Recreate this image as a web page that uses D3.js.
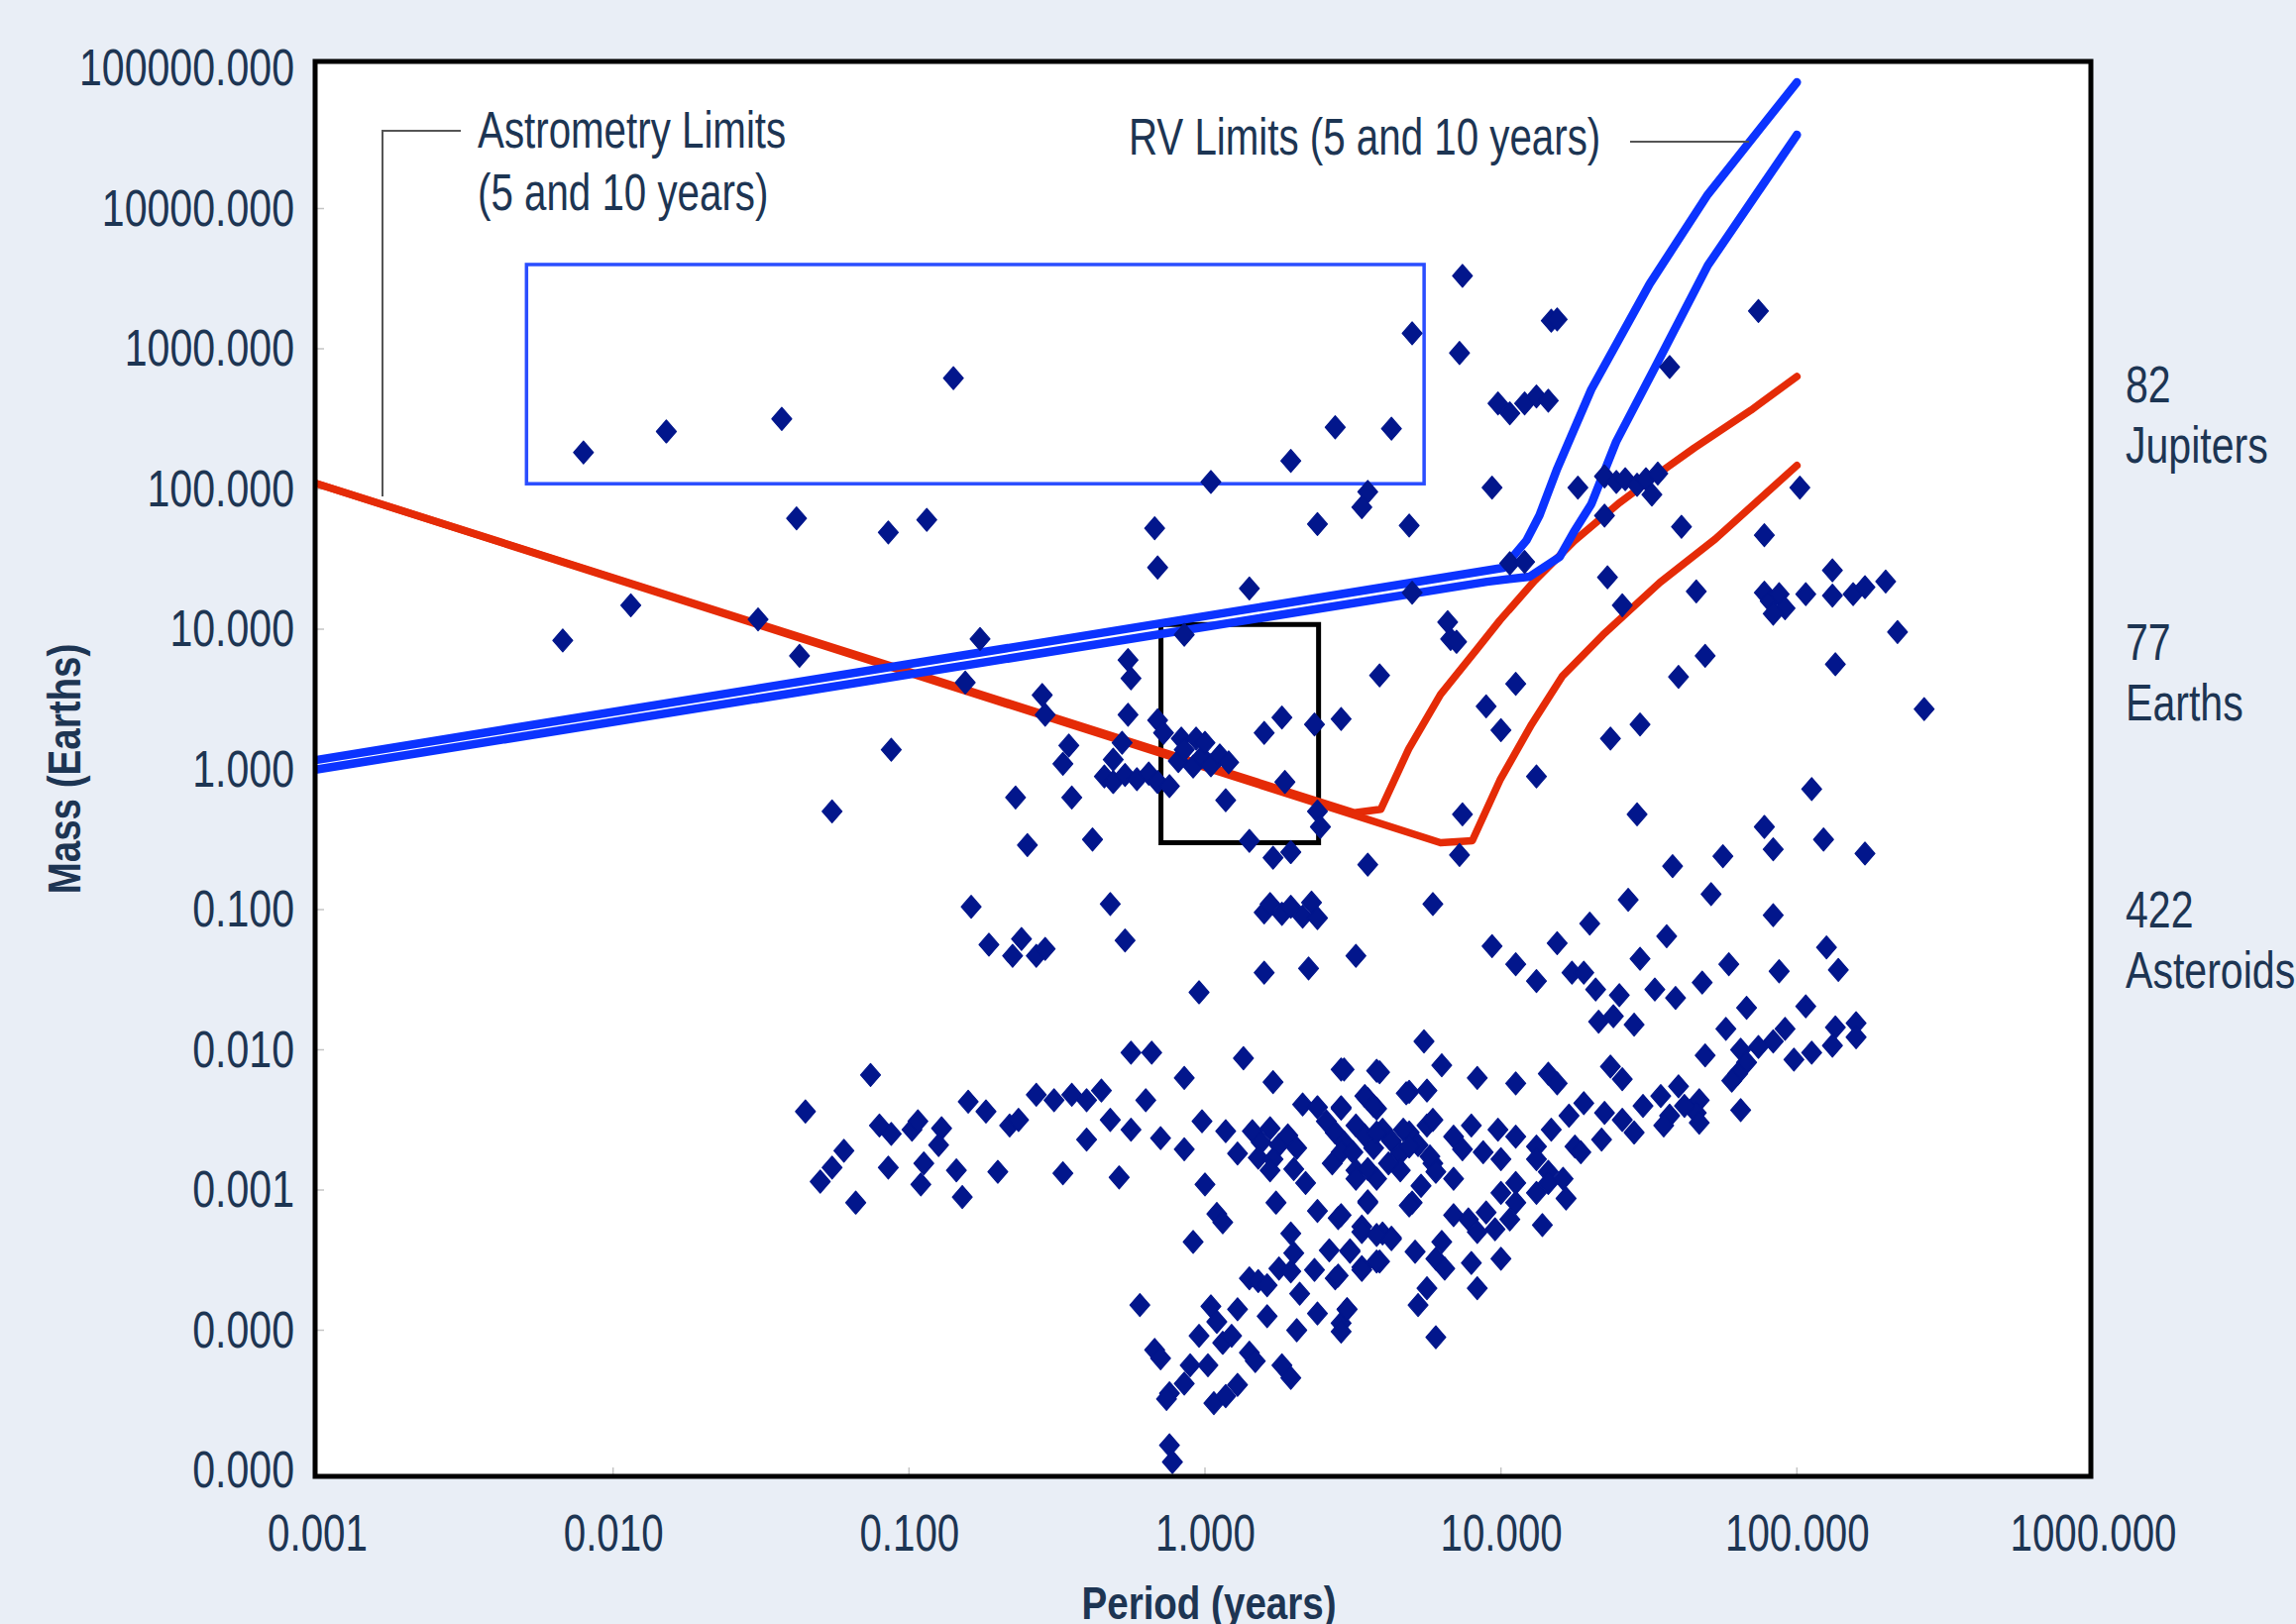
<!DOCTYPE html>
<html>
<head>
<meta charset="utf-8">
<script src="https://cdn.jsdelivr.net/npm/d3@7"></script>
<style>
  html, body { margin: 0; padding: 0; background: #e9eef6; overflow: hidden; }
  svg { display: block; }
  text { font-family: "Liberation Sans", Arial, sans-serif; fill: #1d3553; }
</style>
</head>
<body>
<div id="chart"></div>
<script>
// Candidates as [log10 period (years), log10 mass (Earths)]
const jupiters = [
  [-2.10,2.26],[-1.82,2.41],[-1.43,2.50],[-0.85,2.79],[0.70,3.11],[0.87,3.52],[0.86,2.97],[1.17,3.20],
  [1.19,3.21],[0.44,2.44],[0.63,2.43],[0.29,2.20],[0.02,2.05],[0.55,1.98],[0.53,1.87],[0.97,2.01],
  [0.99,2.61],[1.03,2.54],[1.08,2.61],[1.12,2.66],[1.16,2.63],[1.87,3.27],[1.57,2.87],[1.26,2.01],
  [1.35,2.09],[1.39,2.05],[1.42,2.07],[1.46,2.03],[1.49,2.07],[1.53,2.11],[1.51,1.96],[1.35,1.81],
  [1.61,1.73],[1.89,1.67],[2.01,2.01],[-1.38,1.79],[-1.07,1.69],[-0.94,1.78],[-0.17,1.72],[-0.16,1.44],
  [0.38,1.75],[0.69,1.74],[0.15,1.29],[0.70,1.26],[1.03,1.47],[1.08,1.48],[1.36,1.37],[1.41,1.17],
  [1.66,1.27],[1.89,1.26],[1.91,1.20],[1.94,1.25],[1.96,1.15],[1.92,1.11],[2.03,1.25],[2.12,1.42],
  [2.12,1.24],[2.19,1.25],[2.23,1.30],[2.30,1.34],[2.34,0.98],[-1.94,1.17],[-2.17,0.92],[-1.51,1.07],
  [-0.76,0.93],[-0.07,0.96],[-0.26,0.78],[0.82,1.05],[0.83,0.93],[0.85,0.91],[1.69,0.81],[1.60,0.66],
  [2.13,0.75],[-1.37,0.81],[-0.81,0.62],[0.59,0.67],[1.05,0.61],[-0.25,0.65],[2.43,0.43]
];

const earths = [
  [-0.55,0.53],[-0.54,0.39],[-0.26,0.39],[-0.16,0.35],[-0.14,0.26],[-0.08,0.22],[-0.03,0.22],[-0.28,0.19],
  [-0.31,0.07],[-0.46,0.17],[-0.48,0.04],[-0.64,-0.20],[-0.45,-0.20],[-1.06,0.14],[-1.26,-0.30],[-0.60,-0.54],
  [-0.38,-0.50],[-0.34,-0.05],[-0.31,-0.09],[-0.27,-0.04],[-0.23,-0.07],[-0.19,-0.03],[-0.16,-0.09],[-0.12,-0.12],
  [-0.09,0.06],[-0.07,0.14],[-0.04,0.02],[-0.01,0.09],[0.02,0.03],[0.05,0.10],[0.08,0.05],[0.00,0.19],
  [0.07,-0.22],[0.20,0.26],[0.26,0.37],[0.27,-0.09],[0.37,0.32],[0.46,0.36],[0.38,-0.30],[0.39,-0.41],
  [0.15,-0.51],[0.23,-0.63],[0.29,-0.59],[0.55,-0.68],[0.77,-0.96],[0.87,-0.32],[0.86,-0.61],[0.95,0.45],
  [1.00,0.28],[1.12,-0.05],[1.37,0.22],[1.47,0.32],[1.46,-0.32],[2.05,-0.14],[1.89,-0.41],[1.92,-0.57],
  [2.09,-0.50],[2.23,-0.60],[1.58,-0.69],[1.75,-0.62],[1.43,-0.93],[1.71,-0.89],[1.92,-1.04],[1.30,-1.10],
  [1.56,-1.19],[2.10,-1.27],[2.14,-1.43],[1.94,-1.44],[1.47,-1.35],[1.77,-1.39],[0.97,-1.26],[1.19,-1.24],
  [1.05,-1.39],[1.12,-1.51],[-0.79,-0.98],[-0.32,-0.96],[-0.27,-1.22],[-0.73,-1.25],[-0.62,-1.21],[-0.65,-1.33],
  [-0.57,-1.33],[-0.54,-1.28],[0.20,-1.02],[0.22,-0.96],[0.26,-1.03],[0.29,-0.98],[0.33,-1.05],[0.36,-0.95],
  [0.38,-1.06],[0.20,-1.45],[0.35,-1.42],[0.51,-1.33]
];

const asteroids = [
  [-0.02,-1.59],[1.24,-1.45],[1.28,-1.45],[1.32,-1.57],[1.40,-1.61],[1.52,-1.57],[1.59,-1.63],[1.68,-1.52],
  [1.83,-1.70],[2.03,-1.69],[1.33,-1.80],[1.38,-1.76],[1.45,-1.82],[1.76,-1.85],[1.96,-1.85],[2.13,-1.84],
  [2.20,-1.81],[2.20,-1.91],[2.12,-1.97],[2.05,-2.02],[1.99,-2.07],[1.92,-1.94],[1.87,-1.98],[1.81,-2.00],
  [1.83,-2.09],[1.80,-2.17],[1.78,-2.22],[1.69,-2.04],[1.81,-2.43],[0.74,-1.94],
  [-1.13,-2.18],[-1.35,-2.44],[-1.22,-2.72],[-1.26,-2.84],[-1.30,-2.94],[-1.18,-3.09],[-1.10,-2.54],[-1.06,-2.60],
  [-0.99,-2.57],[-0.97,-2.51],[-0.89,-2.56],[-0.90,-2.68],[-1.07,-2.84],[-0.95,-2.81],[-0.96,-2.96],[-0.84,-2.86],
  [-0.82,-3.05],[-0.80,-2.37],[-0.74,-2.44],[-0.66,-2.54],[-0.63,-2.50],[-0.70,-2.87],[-0.57,-2.32],[-0.51,-2.36],
  [-0.45,-2.32],[-0.40,-2.36],[-0.35,-2.29],[-0.40,-2.64],[-0.48,-2.88],[-0.32,-2.50],[-0.25,-2.57],[-0.29,-2.91],
  [-0.25,-2.02],[-0.18,-2.02],[-0.20,-2.36],[-0.07,-2.20],[-0.15,-2.63],[-0.07,-2.71],[-0.01,-2.51],[0.07,-2.58],
  [0.13,-2.06],[0.00,-2.96],[0.04,-3.17],[0.06,-3.23],[-0.04,-3.37],[0.11,-2.74],[0.23,-2.23],[0.33,-2.39],
  [0.38,-2.41],[0.46,-2.41],[0.46,-2.14],[0.55,-2.35],[0.58,-2.42],[0.58,-2.15],[0.69,-2.30],
  [0.16,-2.58],[0.19,-2.66],[0.22,-2.56],[0.25,-2.68],[0.28,-2.61],[0.31,-2.70],[0.18,-2.77],[0.23,-2.78],
  [0.30,-2.85],[0.22,-2.86],[0.34,-2.95],[0.24,-3.09],
  [0.41,-2.51],[0.44,-2.59],[0.47,-2.66],[0.51,-2.54],[0.54,-2.61],[0.57,-2.70],[0.60,-2.57],[0.63,-2.65],
  [0.66,-2.74],[0.69,-2.59],[0.72,-2.68],[0.75,-2.54],[0.77,-2.81],[0.43,-2.81],[0.51,-2.86],[0.58,-2.92],
  [0.66,-2.86],[0.73,-2.97],[0.46,-2.73],[0.62,-2.81],
  [0.38,-3.15],[0.45,-3.20],[0.53,-3.26],[0.60,-3.31],[0.63,-3.34],[0.55,-3.08],[0.70,-3.09],[0.29,-3.31],
  [0.30,-3.45],[0.42,-3.43],[0.49,-3.43],[0.25,-3.56],[0.29,-3.58],[0.15,-3.63],[0.18,-3.65],[0.21,-3.68],
  [0.37,-3.57],[0.44,-3.63],[0.53,-3.55],[0.59,-3.51],
  [-0.22,-3.82],[0.02,-3.83],[0.04,-3.94],[0.11,-3.85],[0.21,-3.90],[0.32,-3.74],[0.38,-3.88],[0.46,-3.95],
  [0.48,-3.85],[0.31,-4.00],[-0.02,-4.04],[0.06,-4.09],[0.09,-4.04],[-0.17,-4.14],[-0.15,-4.20],[0.15,-4.16],
  [0.17,-4.22],[-0.05,-4.25],[0.01,-4.25],[0.26,-4.25],[0.29,-4.34],[-0.07,-4.38],[-0.12,-4.45],[-0.13,-4.49],
  [0.03,-4.52],[0.07,-4.47],[0.11,-4.39],[-0.12,-4.82],[-0.11,-4.94],
  [0.47,-2.14],[0.59,-2.16],[0.80,-2.11],[0.92,-2.20],[1.05,-2.24],[1.16,-2.17],[1.19,-2.24],[1.37,-2.12],
  [1.41,-2.21],[0.75,-2.29],[0.68,-2.31],[0.54,-2.33],[0.57,-2.40],[0.46,-2.42],
  [0.58,-2.59],[0.67,-2.57],[0.77,-2.50],[0.84,-2.62],[0.90,-2.54],[0.99,-2.57],[1.05,-2.62],[1.12,-2.69],
  [1.17,-2.57],[1.23,-2.47],[1.28,-2.38],[1.35,-2.45],[1.41,-2.50],[1.48,-2.40],[1.54,-2.33],[1.60,-2.26],
  [1.67,-2.36],[1.57,-2.47],[1.66,-2.45],[1.45,-2.59],[1.34,-2.64],[1.25,-2.69],[1.27,-2.73],
  [0.50,-2.73],[0.55,-2.85],[0.69,-2.69],[0.76,-2.76],[0.78,-2.87],[0.84,-2.92],[0.87,-2.71],[0.94,-2.73],
  [1.00,-2.78],[1.12,-2.78],[1.16,-2.87],[1.05,-2.95],[1.12,-3.02],[1.16,-2.95],[1.22,-3.06],[1.21,-2.92],
  [0.51,-2.92],[0.55,-3.09],[0.69,-3.11],[0.46,-3.18],[0.84,-3.18],[0.89,-3.21],[0.95,-3.16],[1.00,-3.02],
  [1.05,-3.09],[1.03,-3.21],[1.14,-3.25],[0.53,-3.30],[0.58,-3.32],[0.63,-3.35],[0.49,-3.44],[0.53,-3.57],
  [0.58,-3.51],[0.71,-3.44],[0.80,-3.37],[0.78,-3.49],[0.81,-3.56],[0.90,-3.52],[0.92,-3.30],[0.98,-3.28],
  [1.00,-3.49],[0.92,-3.70],[0.75,-3.70],[0.72,-3.82],[0.45,-3.61],[0.48,-3.85],[0.46,-4.01],[0.78,-4.05],
  [1.62,-2.40],[1.55,-2.54],[1.67,-2.52]
];

// Detection limits as [period (years), mass (Earths)]
const rvLimit5 = [[0.001,1.17],[10.2,27.4],[12.2,43],[13.5,65],[15.5,140],[20.2,513],[31.8,2900],[50,12600],[100,79600]];
const rvLimit10 = [[0.001,1.0],[8.97,21.8],[12.5,23.7],[15.8,32.8],[17.6,49],[20.2,78],[24.5,217],[33.8,796],[50,3930],[100,33600]];
const astroLimit5 = [[0.001,109],[3.2,0.49],[3.93,0.52],[4.88,1.40],[6.25,3.42],[8.3,7.2],[9.93,11.6],[13.0,22.2],[17.7,42.6],[25.2,80],[36,140],[45,196],[70,365],[100,634]];
const astroLimit10 = [[0.001,109],[6.25,0.30],[8.0,0.31],[9.93,0.84],[12.7,2.1],[16.1,4.6],[22.1,9.1],[34.4,21.5],[53,44],[100,147]];

// boxes as [period min, period max, mass min, mass max]
const blueBox = [0.0051, 5.5, 109, 3990];
const blackBox = [0.71, 2.42, 0.30, 10.8];

const xTicks = [0.001, 0.01, 0.1, 1, 10, 100, 1000];
const yTicks = [1e5, 1e4, 1e3, 100, 10, 1, 0.1, 0.01, 0.001, 1e-4, 1e-5];
const groupCounts = ["82", "77", "422"];
const groupNames = ["Jupiters", "Earths", "Asteroids"];

const width = 2317;
const height = 1639;
const frame = { left: 318, right: 2110, top: 62, bottom: 1490 };

const x = d3.scaleLog().domain([0.001, 1000]).range([320, 2112]);
const y = d3.scaleLog().domain([1e-5, 1e5]).range([1484, 69]);
const fmt = d3.format(".3f");

const svg = d3.select("#chart")
  .append("svg")
  .attr("width", width)
  .attr("height", height);

svg.append("rect")
  .attr("width", width)
  .attr("height", height)
  .attr("fill", "#e9eef6");

svg.append("rect")
  .attr("x", frame.left)
  .attr("y", frame.top)
  .attr("width", frame.right - frame.left)
  .attr("height", frame.bottom - frame.top)
  .attr("fill", "#fff");

svg.append("clipPath")
  .attr("id", "plot-clip")
  .append("rect")
    .attr("x", frame.left)
    .attr("y", frame.top)
    .attr("width", frame.right - frame.left)
    .attr("height", frame.bottom - frame.top);

const plot = svg.append("g").attr("clip-path", "url(#plot-clip)");

// small inner ticks
plot.append("g")
  .attr("stroke", "#c4c4c4")
  .attr("stroke-width", 1.5)
  .selectAll("line")
  .data(xTicks.slice(1, -1))
  .join("line")
    .attr("x1", d => x(d)).attr("x2", d => x(d))
    .attr("y1", frame.bottom).attr("y2", frame.bottom - 9);

plot.append("g")
  .attr("stroke", "#c4c4c4")
  .attr("stroke-width", 1.5)
  .selectAll("line")
  .data(yTicks.slice(1, -1))
  .join("line")
    .attr("x1", frame.left).attr("x2", frame.left + 9)
    .attr("y1", d => y(d)).attr("y2", d => y(d));

// boxes
const box = (b, color, w) => plot.append("rect")
  .attr("x", x(b[0]))
  .attr("y", y(b[3]))
  .attr("width", x(b[1]) - x(b[0]))
  .attr("height", y(b[2]) - y(b[3]))
  .attr("fill", "none")
  .attr("stroke", color)
  .attr("stroke-width", w);

box(blueBox, "#2a4dff", 3.5);
box(blackBox, "#000", 5);

// limit curves
const line = d3.line().x(d => x(d[0])).y(d => y(d[1]));

[[astroLimit5, "#e52b07", 7.5], [astroLimit10, "#e52b07", 7.5],
 [rvLimit5, "#0b33ff", 8.5], [rvLimit10, "#0b33ff", 8.5]].forEach(([pts, color, w]) => {
  plot.append("path")
    .datum(pts)
    .attr("d", line)
    .attr("fill", "none")
    .attr("stroke", color)
    .attr("stroke-width", w)
    .attr("stroke-linejoin", "round")
    .attr("stroke-linecap", "round");
});

// candidates
const diamond = "M0,-11.5L10,0L0,11.5L-10,0Z";
const allPoints = jupiters.concat(earths, asteroids).map(d => [10 ** d[0], 10 ** d[1]]);

plot.append("g")
  .attr("fill", "#02168c")
  .attr("stroke", "#02168c")
  .attr("stroke-width", 1.2)
  .attr("stroke-linejoin", "round")
  .selectAll("path")
  .data(allPoints)
  .join("path")
    .attr("transform", d => `translate(${x(d[0])},${y(d[1])})`)
    .attr("d", diamond);

// frame
svg.append("rect")
  .attr("x", frame.left)
  .attr("y", frame.top)
  .attr("width", frame.right - frame.left)
  .attr("height", frame.bottom - frame.top)
  .attr("fill", "none")
  .attr("stroke", "#000")
  .attr("stroke-width", 5);

// axes
svg.append("g")
  .attr("transform", `translate(${frame.left},0)`)
  .call(d3.axisLeft(y).tickValues(yTicks).tickFormat(fmt).tickSize(0).tickPadding(21))
  .call(g => g.select(".domain").remove())
  .call(g => g.attr("font-family", null).attr("font-size", 52));

svg.append("g")
  .attr("transform", `translate(0,${frame.bottom})`)
  .call(d3.axisBottom(x).tickValues(xTicks).tickFormat(fmt).tickSize(0).tickPadding(39))
  .call(g => g.select(".domain").remove())
  .call(g => g.attr("font-family", null).attr("font-size", 51));

svg.append("text")
  .attr("class", "bold")
  .attr("x", 1220)
  .attr("y", 1634)
  .attr("text-anchor", "middle")
  .attr("font-size", 47)
  .attr("font-weight", "bold")
  .text("Period (years)");

svg.append("text")
  .attr("class", "bold")
  .attr("transform", "translate(81,776) rotate(-90)")
  .attr("text-anchor", "middle")
  .attr("font-size", 47)
  .attr("font-weight", "bold")
  .text("Mass (Earths)");

// annotations
svg.append("path")
  .attr("d", "M465,132H386V501")
  .attr("fill", "none")
  .attr("stroke", "#555")
  .attr("stroke-width", 2);

svg.append("text").attr("x", 482).attr("y", 149).attr("font-size", 51).text("Astrometry Limits");
svg.append("text").attr("x", 482).attr("y", 212).attr("font-size", 51).text("(5 and 10 years)");

svg.append("line")
  .attr("x1", 1645).attr("x2", 1765)
  .attr("y1", 143).attr("y2", 143)
  .attr("stroke", "#555")
  .attr("stroke-width", 2);

svg.append("text").attr("x", 1139).attr("y", 156).attr("font-size", 51).text("RV Limits (5 and 10 years)");

// counts at right
const countBase = [406, 666, 936];
groupCounts.forEach((c, i) => {
  svg.append("text").attr("x", 2145).attr("y", countBase[i]).attr("font-size", 52).text(c);
  svg.append("text").attr("x", 2145).attr("y", countBase[i] + 61).attr("font-size", 52).text(groupNames[i]);
});

// the original type is a condensed face: squeeze every label horizontally
svg.selectAll("text").each(function() {
  const squeeze = this.getAttribute("class") === "bold" ? 0.82 : 0.79;
  const w = this.getComputedTextLength();
  this.setAttribute("textLength", (w * squeeze).toFixed(1));
  this.setAttribute("lengthAdjust", "spacingAndGlyphs");
});
</script>
</body>
</html>
